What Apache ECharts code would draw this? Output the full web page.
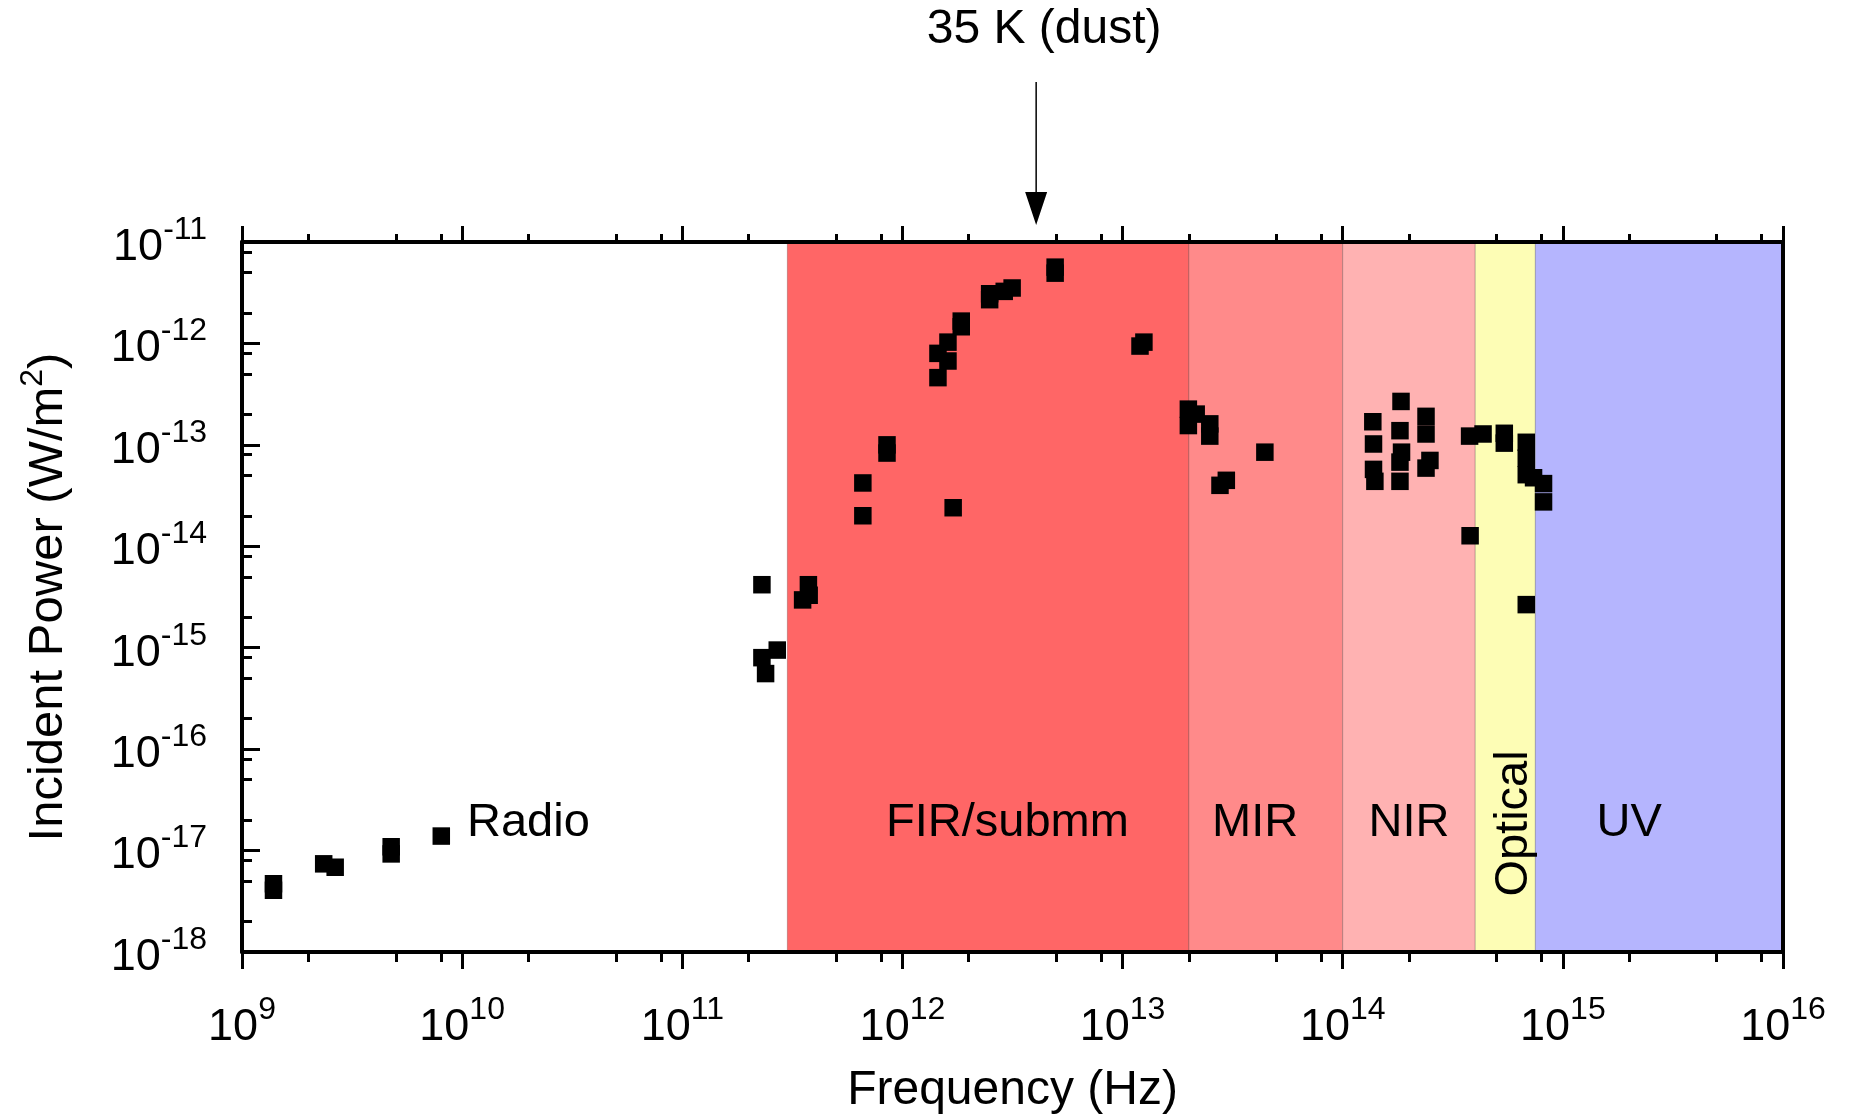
<!DOCTYPE html>
<html>
<head>
<meta charset="utf-8">
<title>Incident power vs frequency</title>
<script src="https://cdn.jsdelivr.net/npm/echarts@6/dist/echarts.min.js"></script>
<style>
  html, body { margin: 0; padding: 0; background: #fff; }
  #main { width: 1851px; height: 1120px; }
</style>
</head>
<body>
<div id="main"></div>
<script>
// measured points, frequency (Hz) / incident power (W/m2)
var radioFreq  = [1.39e9, 1.39e9, 2.35e9, 2.65e9, 4.76e9, 4.76e9, 8.04e9];
var radioPower = [4.71e-18, 4.06e-18, 7.40e-18, 6.85e-18, 1.09e-17, 9.27e-18, 1.39e-17];

var submmFreq  = [2.30e11, 3.74e11, 3.52e11, 3.77e11, 2.70e11, 2.30e11, 2.39e11];
var submmPower = [4.18e-15, 4.18e-15, 2.96e-15, 3.29e-15, 9.48e-16, 7.98e-16, 5.56e-16];

var firFreq  = [6.61e11, 6.61e11, 8.51e11, 8.51e11, 1.70e12, 1.45e12, 1.61e12, 1.45e12, 1.61e12,
                1.85e12, 1.85e12, 2.49e12, 2.49e12, 2.90e12, 3.15e12, 4.94e12, 4.94e12, 1.20e13, 1.25e13];
var firPower = [4.21e-14, 2.00e-14, 1.00e-13, 8.30e-14, 2.40e-14, 4.60e-13, 6.71e-13, 7.98e-13, 1.03e-12,
                1.46e-12, 1.66e-12, 2.70e-12, 3.09e-12, 3.26e-12, 3.52e-12, 4.93e-12, 5.65e-12, 9.42e-13, 1.03e-12];

var mirFreq  = [1.99e13, 2.16e13, 1.99e13, 2.49e13, 2.49e13, 4.43e13, 2.77e13, 2.96e13];
var mirPower = [2.25e-13, 2.01e-13, 1.55e-13, 1.61e-13, 1.22e-13, 8.47e-14, 3.99e-14, 4.47e-14];

var nirFreq  = [1.84e14, 1.37e14, 2.39e14, 2.39e14, 1.82e14, 1.38e14, 1.85e14, 1.82e14, 1.38e14,
                1.40e14, 1.82e14, 2.49e14, 2.39e14];
var nirPower = [2.68e-13, 1.69e-13, 1.91e-13, 1.28e-13, 1.38e-13, 1.02e-13, 8.47e-14, 6.76e-14, 5.73e-14,
                4.37e-14, 4.37e-14, 7.02e-14, 5.90e-14];

var optFreq  = [3.77e14, 4.34e14, 5.42e14, 5.42e14, 6.82e14, 6.82e14, 6.82e14, 7.36e14, 8.17e14, 8.17e14,
                3.79e14, 6.82e14];
var optPower = [1.22e-13, 1.28e-13, 1.30e-13, 1.04e-13, 1.06e-13, 7.40e-14, 5.08e-14, 4.74e-14, 4.15e-14, 2.74e-14,
                1.27e-14, 2.66e-15];

// spectral bands
var bandNames  = ['FIR/submm', 'MIR', 'NIR', 'Optical', 'UV'];
var bandEdges  = [3e11, 2e13, 1e14, 4e14, 7.5e14, 1e16];
var bandColors = ['#ff6666', '#ff8a8a', '#ffb2b2', '#fdfdb5', '#b5b5fe'];

// region labels and where they sit
var labelText  = ['Radio', 'FIR/submm', 'MIR', 'NIR', 'Optical', 'UV'];
var labelFreq  = [2.0e10, 3.0e12, 4.0e13, 2.0e14, 6.0e14, 2.0e15];
var labelPower = 1.85e-17;

var dustPeakFreq = 4.05e12;   // arrow "35 K (dust)"

var xMajor = [1e9, 1e10, 1e11, 1e12, 1e13, 1e14, 1e15, 1e16];
var yMajor = [1e-18, 1e-17, 1e-16, 1e-15, 1e-14, 1e-13, 1e-12, 1e-11];

var FONT = '"Liberation Sans", Arial, Helvetica, sans-serif';

function minorTicks(lo, hi) {
	// ticks at 2, 5, 8 of every decade
	var out = [];
	for (var e = lo; e < hi; e++) {
		[2, 5, 8].forEach(function(m) { out.push(m * Math.pow(10, e)); });
	}
	return out;
}

function pow10Label(v) {
	return '{b|10}{s|' + Math.round(Math.log10(v)) + '}';
}

var tickRich = {
	b : { fontSize : 45, fontFamily : FONT, color : '#000', verticalAlign : 'bottom' },
	s : { fontSize : 32, fontFamily : FONT, color : '#000', verticalAlign : 'bottom', padding : [0, 0, 24, 0] }
};

function axisBase(extra) {
	var a = {
		type : 'log', logBase : 10, z : 10,
		splitLine : { show : false },
		axisLine : { show : false },
		axisTick : { show : false },
		axisLabel : { show : false }
	};
	for (var k in extra) a[k] = extra[k];
	return a;
}

function pairs(xs, ys) {
	return xs.map(function(x, i) { return [x, ys[i]]; });
}

var points = [].concat(
	pairs(radioFreq, radioPower), pairs(submmFreq, submmPower), pairs(firFreq, firPower),
	pairs(mirFreq, mirPower), pairs(nirFreq, nirPower), pairs(optFreq, optPower)
);

var xRange = { min : 1e9, max : 1e16 };
var yRange = { min : 1e-18, max : 1e-11 };
var frame = { show : true, onZero : false, lineStyle : { color : '#000', width : 4 } };

var option = {
	backgroundColor : '#fff',
	animation : false,
	grid : { left : 242, right : 68, top : 242, bottom : 164, containLabel : false },
	xAxis : [
		axisBase({
			position : 'bottom', min : xRange.min, max : xRange.max,
			axisLine : frame,
			axisTick : { show : true, inside : false, length : 17, customValues : xMajor, lineStyle : { color : '#000', width : 3 } },
			axisLabel : { show : true, customValues : xMajor, margin : 42, formatter : pow10Label, rich : tickRich },
			name : 'Frequency (Hz)', nameLocation : 'middle', nameGap : 115,
			nameTextStyle : { fontSize : 48, fontFamily : FONT, color : '#000' }
		}),
		axisBase({
			position : 'bottom', min : xRange.min, max : xRange.max,
			axisTick : { show : true, inside : false, length : 10, customValues : minorTicks(9, 16), lineStyle : { color : '#000', width : 3 } }
		}),
		axisBase({
			position : 'top', min : xRange.min, max : xRange.max,
			axisLine : frame,
			axisTick : { show : true, inside : false, length : 16, customValues : xMajor, lineStyle : { color : '#000', width : 3 } }
		}),
		axisBase({
			position : 'top', min : xRange.min, max : xRange.max,
			axisTick : { show : true, inside : false, length : 8, customValues : minorTicks(9, 16), lineStyle : { color : '#000', width : 3 } }
		})
	],
	yAxis : [
		axisBase({
			position : 'left', min : yRange.min, max : yRange.max,
			axisLine : frame,
			axisTick : { show : true, inside : true, length : 18, customValues : yMajor, lineStyle : { color : '#000', width : 3 } },
			axisLabel : { show : true, customValues : yMajor, margin : 35, formatter : pow10Label, rich : tickRich },
			name : '{n|Incident Power (W/m}{s|2}{n|)}', nameLocation : 'middle', nameGap : 169,
			nameTextStyle : {
				rich : {
					n : { fontSize : 49, fontFamily : FONT, color : '#000', verticalAlign : 'bottom' },
					s : { fontSize : 32, fontFamily : FONT, color : '#000', verticalAlign : 'bottom', padding : [0, 0, 24, 0] }
				}
			}
		}),
		axisBase({
			position : 'left', min : yRange.min, max : yRange.max,
			axisTick : { show : true, inside : true, length : 10, customValues : minorTicks(-18, -11), lineStyle : { color : '#000', width : 3 } }
		}),
		axisBase({
			position : 'right', min : yRange.min, max : yRange.max,
			axisLine : frame
		})
	],
	series : [
		{
			name : 'bands', type : 'scatter', data : [], silent : true, z : 1,
			markArea : {
				silent : true,
				label : { show : false },
				data : bandNames.map(function(n, i) {
					return [
						{ name : n, xAxis : bandEdges[i], itemStyle : { color : bandColors[i], borderColor : 'rgba(0,0,0,0.2)', borderWidth : 1 } },
						{ xAxis : bandEdges[i + 1] }
					];
				})
			}
		},
		{
			name : 'Incident power', type : 'scatter', z : 5,
			symbol : 'rect', symbolSize : 17.5,
			itemStyle : { color : '#000', opacity : 1 },
			data : points
		},
		{
			name : 'labels', type : 'scatter', z : 6, silent : true,
			symbolSize : 1, itemStyle : { color : 'rgba(0,0,0,0)' },
			label : {
				show : true, position : 'inside', formatter : '{b}',
				fontSize : 47, fontFamily : FONT, color : '#000',
				opacity : 1, textBorderWidth : 0
			},
			data : labelText.map(function(t, i) {
				return { name : t, value : [labelFreq[i], labelPower], label : { rotate : t === 'Optical' ? 90 : 0 } };
			})
		}
	]
};

var chart = echarts.init(document.getElementById('main'), null, { renderer : 'canvas' });
chart.setOption(option);

// arrow and caption above the frame
var arrowX = chart.convertToPixel({ xAxisIndex : 0 }, dustPeakFreq);
var frameTop = chart.convertToPixel({ yAxisIndex : 0 }, yRange.max);
chart.setOption({
	graphic : [
		{
			type : 'text', x : arrowX + 8, y : 30, z : 20,
			style : { text : '35 K (dust)', font : '48px ' + FONT, fill : '#000',
				textAlign : 'center', textVerticalAlign : 'middle', align : 'center', verticalAlign : 'middle' }
		},
		{
			type : 'line', z : 20,
			shape : { x1 : arrowX, y1 : frameTop - 160, x2 : arrowX, y2 : frameTop - 45 },
			style : { stroke : '#000', lineWidth : 1.5 }
		},
		{
			type : 'polygon', z : 20,
			shape : { points : [[arrowX - 11, frameTop - 50], [arrowX + 11, frameTop - 50], [arrowX, frameTop - 17]] },
			style : { fill : '#000' }
		}
	]
});
</script>
</body>
</html>
